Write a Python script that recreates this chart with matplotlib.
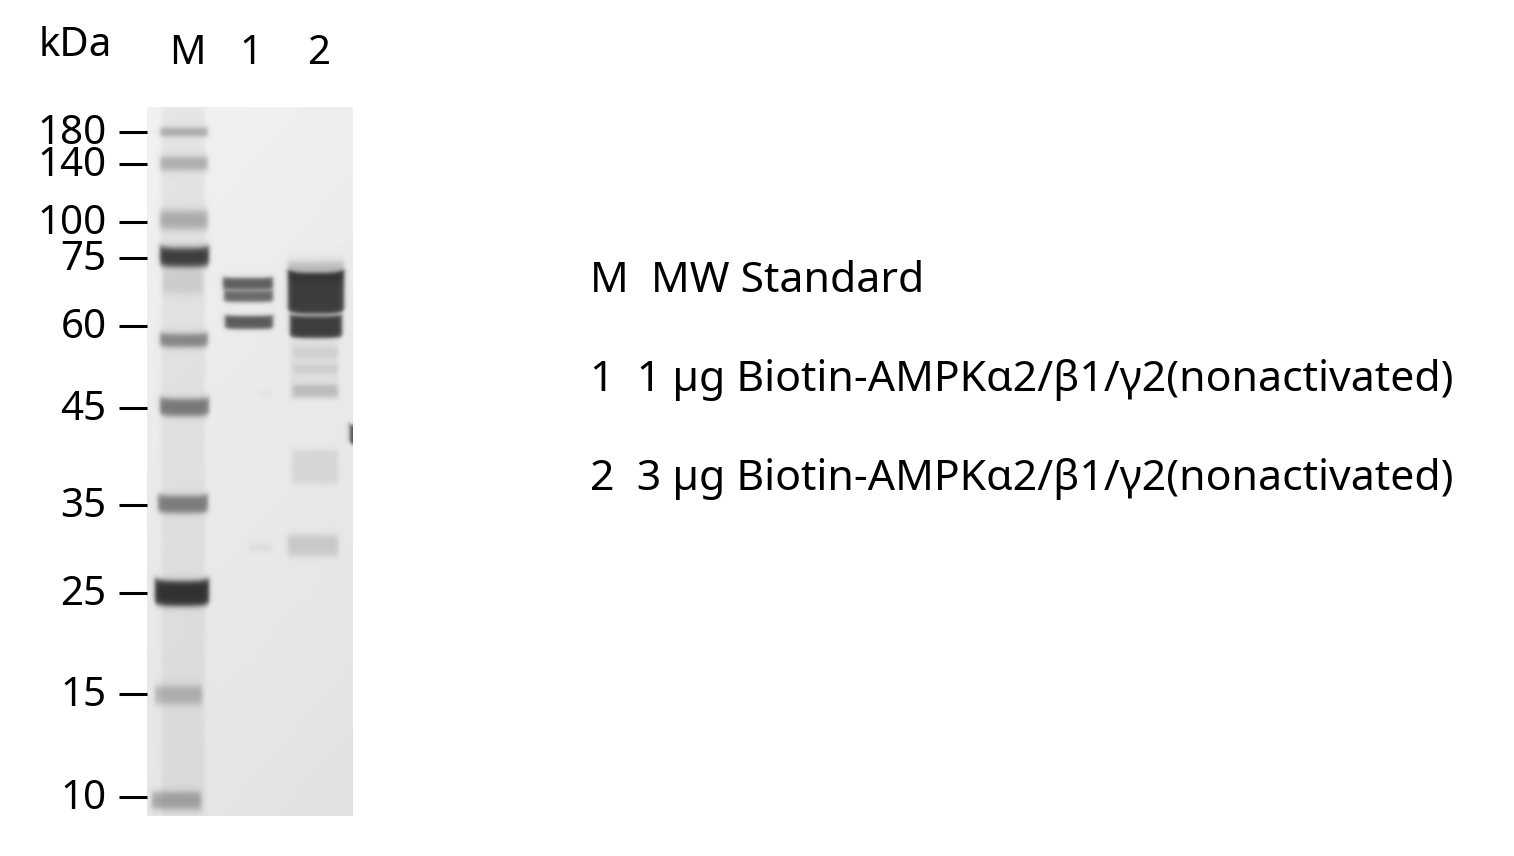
import matplotlib
matplotlib.use("Agg")
import matplotlib.pyplot as plt
import numpy as np
from matplotlib.transforms import ScaledTranslation

plt.rcParams['font.family'] = ['Noto Sans', 'DejaVu Sans']

W = 1514
H = 856

# molecular weight ladder, y is the pixel row on the gel
mw_labels = ["180", "140", "100", "75", "60", "45", "35", "25", "15", "10"]
mw_rows = [132, 164, 222, 258, 326, 408, 505, 593, 694, 797]

lane_names = ["M", "1", "2"]
lane_x = [187, 251, 319]

legend_lines = ["M  MW Standard",
                "1  1 \u00b5g Biotin-AMPK\u03b12/\u03b21/\u03b32(nonactivated)",
                "2  3 \u00b5g Biotin-AMPK\u03b12/\u03b21/\u03b32(nonactivated)"]

# bands: left, right, top, bottom, darkness, blur
marker_bands = [
    (160, 208, 128, 136, 0.27, 3.0),
    (160, 208, 157, 170, 0.25, 4.0),
    (160, 208, 211, 229, 0.26, 5.0),
    (160, 209, 248, 267, 0.74, 4.0),
    (163, 203, 272, 294, 0.10, 5.0),
    (160, 208, 334, 347, 0.42, 3.5),
    (160, 209, 399, 416, 0.47, 3.5),
    (158, 208, 496, 513, 0.45, 3.5),
    (155, 209, 581, 606, 0.78, 3.5),
    (155, 202, 686, 704, 0.22, 4.5),
    (152, 201, 792, 809, 0.28, 4.0),
]
lane1_bands = [
    (223, 273, 278, 290, 0.60, 2.5),
    (224, 273, 291, 302, 0.56, 2.5),
    (225, 273, 316, 329, 0.62, 2.5),
    (258, 272, 391, 396, 0.04, 2.5),
    (250, 272, 544, 551, 0.05, 3.5),
]
lane2_bands = [
    (288, 344, 262, 280, 0.22, 5.0),
    (288, 344, 273, 314, 0.74, 2.5),
    (290, 342, 316, 338, 0.74, 2.5),
    (293, 338, 348, 358, 0.07, 3.0),
    (293, 338, 365, 373, 0.08, 2.5),
    (293, 338, 385, 397, 0.15, 2.5),
    (292, 338, 450, 484, 0.08, 3.5),
    (288, 338, 535, 556, 0.13, 4.0),
]
smears = [
    (162, 205, 107, 816, 0.05, 5.0),
    (290, 338, 340, 400, 0.05, 3.0),
    (350, 358, 425, 444, 0.70, 2.0),
]


def box(v, lo, hi, blur):
    return 0.5*(np.tanh((v-lo)/blur) - np.tanh((v-hi)/blur))


def draw_gel():
    xs = np.arange(147, 353) + 0.5
    ys = np.arange(107, 816) + 0.5
    X, Y = np.meshgrid(xs, ys)
    # background: a bit lighter at the top, darker to the bottom right
    paper = 0.945 - 0.045*(Y-107)/709 - 0.015*(X-147)/206
    clear = np.ones_like(X)
    for left, right, top, bottom, dark, blur in smears + marker_bands + lane1_bands + lane2_bands:
        # ends of the bands bend up a little
        mid = (left+right)/2
        u = np.clip((X-mid)/((right-left)/2), -1.2, 1.2)
        bent = Y + 0.18*blur*(bottom-top)/6*u**4 if dark > 0.3 else Y
        clear *= 1 - dark*box(X, left, right, 2.5)*box(bent, top, bottom, blur)
    return paper*clear


fig = plt.figure(figsize=(W/100, H/100), dpi=100)
ax = fig.add_axes([147/W, 1-816/H, 206/W, 709/H])
ax.imshow(draw_gel(), cmap="gray", vmin=0, vmax=1, extent=(147, 353, 816, 107),
          aspect="auto", interpolation="bilinear")
for s in ax.spines.values():
    s.set_visible(False)
ax.set_xticks([])
ax.set_yticks(mw_rows)
ax.set_yticklabels(mw_labels, fontsize=29)
ax.tick_params(axis="y", length=20, width=2.2, color="black", pad=9)
# the labels sit slightly above their ticks
up = ScaledTranslation(0, 2.2/72, fig.dpi_scale_trans)
for lab in ax.get_yticklabels():
    lab.set_transform(lab.get_transform() + up)

fig.text(75/W, 1-46/H, "kDa", fontsize=29, ha="center", va="center")
for name, x in zip(lane_names, lane_x):
    fig.text(x/W, 1-54/H, name, fontsize=29, ha="center", va="center")

for line, row in zip(legend_lines, [292, 391, 490]):
    fig.text(590/W, 1-row/H, line, fontsize=30.8, ha="left", va="baseline")

plt.savefig("out.png", dpi=100)
